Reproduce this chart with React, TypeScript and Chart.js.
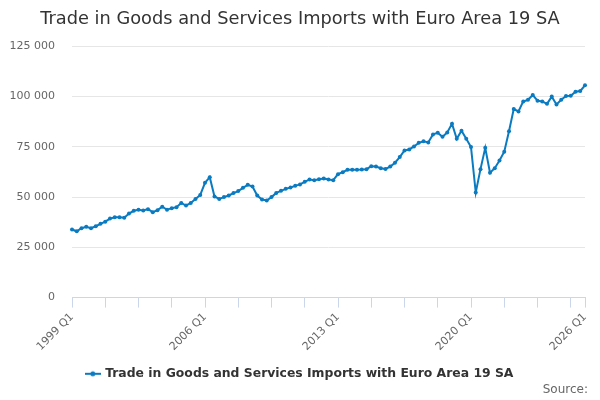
import { useEffect, useRef } from "react";
import Chart from "chart.js/auto";

const TITLE = "Trade in Goods and Services Imports with Euro Area 19 SA";
const SERIES_NAME = "Trade in Goods and Services Imports with Euro Area 19 SA";

const startYear = 1999;
const endYear = 2026;

// quarter labels 1999 Q1 .. 2026 Q1
const quarters: string[] = [];
for (let y = startYear; y <= endYear; y++) {
    for (let q = 1; q <= 4; q++) {
        if (y === endYear && q > 1) break;
        quarters.push(`${y} Q${q}`);
    }
}

// labelled ticks along the x axis
const labelledQuarters = ["1999 Q1", "2006 Q1", "2013 Q1", "2020 Q1", "2026 Q1"];

// imports, £ million
const imports: number[] = [
    33900, 33000, 34500, 35200,
    34500, 35500, 36700, 37800,
    39300, 40000, 40000, 39700,
    41800, 43200, 43700, 43300,
    44000, 42500, 43500, 45200,
    43700, 44500, 45000, 47100,
    45800, 47100, 49100, 51100,
    57100, 59900, 50300, 49100,
    50000, 50800, 52000, 53000,
    54600, 56100, 55300, 50800,
    48800, 48300, 50000, 52100,
    53100, 54100, 54800, 55600,
    56300, 57600, 58800, 58400,
    58900, 59300, 58800, 58400,
    61400, 62400, 63600, 63600,
    63600, 63700, 63900, 65400,
    65200, 64400, 64000, 65200,
    67100, 69900, 73200, 73700,
    75200, 77000, 77800, 77200,
    81200, 82000, 80000, 82200,
    86500, 79000, 83000, 79000,
    74900, 52300, 63900, 74500,
    62100, 64400, 68200, 72600,
    82800, 93800, 92600, 97600,
    98400, 100800, 98000, 97600,
    96400, 100000, 96100, 98400,
    100300, 100400, 102400, 102800,
    105600,
];

const yTicks = [0, 25000, 50000, 75000, 100000, 125000];

const BLUE = "#0a7bc1";
const FONT = "'DejaVu Sans', sans-serif";

const fmt = (v: number) => String(v).replace(/\B(?=(\d{3})+(?!\d))/g, " ");

function legendSymbol(): HTMLCanvasElement {
    const c = document.createElement("canvas");
    c.width = 16;
    c.height = 8;
    const g = c.getContext("2d");
    if (g) {
        g.strokeStyle = BLUE;
        g.lineWidth = 2;
        g.beginPath();
        g.moveTo(0, 4);
        g.lineTo(16, 4);
        g.stroke();
        g.fillStyle = BLUE;
        g.beginPath();
        g.arc(8, 4, 2.5, 0, Math.PI * 2);
        g.fill();
    }
    return c;
}

const ImportsChart: React.FC = () => {
    const chartRef = useRef<HTMLCanvasElement | null>(null);

    useEffect(() => {
        if (!chartRef.current) return;
        const ctx = chartRef.current.getContext("2d");
        if (!ctx) return;

        const symbol = legendSymbol();

        const myChart = new Chart(ctx, {
            type: "line",
            data: {
                labels: quarters,
                datasets: [{
                    label: SERIES_NAME,
                    data: imports,
                    borderColor: BLUE,
                    backgroundColor: BLUE,
                    borderWidth: 2,
                    pointRadius: 2,
                    pointHoverRadius: 3,
                    pointBorderWidth: 0,
                    tension: 0,
                    fill: false,
                }],
            },
            options: {
                responsive: true,
                maintainAspectRatio: false,
                animation: false,
                layout: { padding: { left: 0, right: 0, top: 0, bottom: 10 } },
                font: { family: FONT },
                plugins: {
                    title: {
                        display: true,
                        text: TITLE,
                        color: "#333333",
                        font: { family: FONT, size: 17.8, weight: "normal" },
                        padding: { top: 9, bottom: 16 },
                    },
                    legend: {
                        position: "bottom",
                        labels: {
                            color: "#333333",
                            font: { family: FONT, size: 12.4, weight: "bold" },
                            usePointStyle: true,
                            boxWidth: 16,
                            generateLabels: (chart) => chart.data.datasets.map((ds, i) => ({
                                text: ds.label as string,
                                datasetIndex: i,
                                pointStyle: symbol,
                                fillStyle: BLUE,
                                strokeStyle: BLUE,
                                fontColor: "#333333",
                                lineWidth: 0,
                                hidden: false,
                            })),
                        },
                    },
                    tooltip: { enabled: false },
                },
                scales: {
                    x: {
                        type: "category",
                        grid: {
                            drawOnChartArea: false,
                            drawTicks: true,
                            tickLength: 10,
                            tickColor: (c) => (c.index % 7 === 0 || c.index === quarters.length - 1) ? "#ccd6eb" : "transparent",
                        },
                        border: { color: "#ccd6eb", width: 1 },
                        ticks: {
                            autoSkip: false,
                            minRotation: 45,
                            maxRotation: 45,
                            color: "#666666",
                            font: { family: FONT, size: 11 },
                            padding: 3,
                            callback: (_v, i) => labelledQuarters.includes(quarters[i]) ? quarters[i] : "",
                        },
                        afterFit: (scale) => { scale.height = 60; },
                    },
                    y: {
                        min: 0,
                        max: 125000,
                        afterBuildTicks: (scale) => { scale.ticks = yTicks.map((v) => ({ value: v })); },
                        grid: { color: "#e6e6e6", drawTicks: false },
                        border: { display: false },
                        ticks: {
                            color: "#666666",
                            font: { family: FONT, size: 11 },
                            padding: 17,
                            callback: (v) => fmt(Number(v)),
                        },
                        afterFit: (scale) => { scale.width = 72; },
                    },
                    // empty right-hand axis, only keeps a margin beside the plot
                    yRight: {
                        position: "right",
                        min: 0,
                        max: 125000,
                        grid: { drawOnChartArea: false, drawTicks: false },
                        border: { display: false },
                        ticks: { display: false },
                        afterFit: (scale) => { scale.width = 15; },
                    },
                },
            },
        });

        return () => {
            myChart.destroy();
        };
    }, []);

    return (
        <div style={{ position: "absolute", left: 0, top: 0, width: 600, height: 400, background: "#fff" }}>
            <canvas ref={chartRef}></canvas>
            <div style={{ position: "absolute", right: 12, top: 382, fontFamily: FONT, fontSize: 12, color: "#666666" }}>
                Source:
            </div>
        </div>
    );
};

export default function App() {
    return <ImportsChart />;
}
